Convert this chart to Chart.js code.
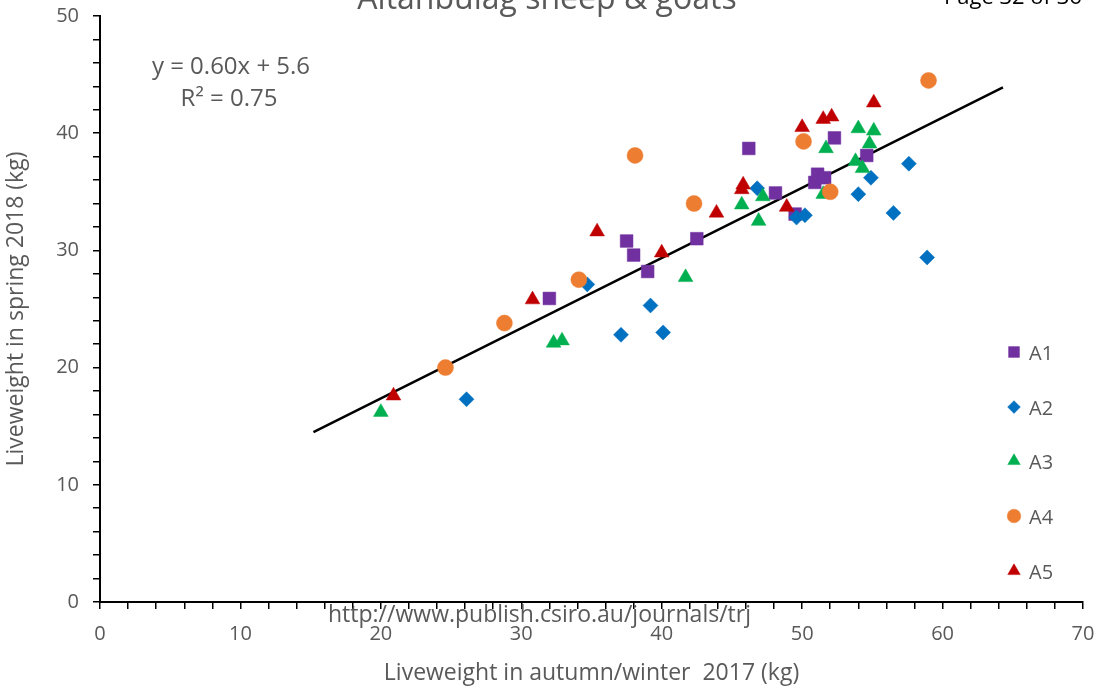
<!DOCTYPE html>
<html>
<head>
<meta charset="utf-8">
<script src="https://cdn.jsdelivr.net/npm/chart.js@4.4.1/dist/chart.umd.min.js"></script>
<style>
  html, body { margin: 0; padding: 0; background: #ffffff; }
  #wrap { width: 1101px; height: 687px; position: relative; }
</style>
</head>
<body>
<div id="wrap"><canvas id="c" width="1101" height="687"></canvas></div>
<script>
// ---- data ----
const seriesNames = ['A1', 'A2', 'A3', 'A4', 'A5'];

const a1X = [32.0, 37.5, 38.0, 39.0, 42.5, 46.2, 48.1, 49.5, 50.9, 51.1, 51.6, 52.3, 54.6];
const a1Y = [25.9, 30.8, 29.6, 28.2, 31.0, 38.7, 34.9, 33.1, 35.8, 36.5, 36.2, 39.6, 38.1];

const a2X = [26.1, 34.7, 37.1, 39.2, 40.1, 46.8, 49.6, 50.2, 54.0, 54.9, 56.5, 57.6, 58.9];
const a2Y = [17.3, 27.1, 22.8, 25.3, 23.0, 35.3, 32.8, 33.0, 34.8, 36.2, 33.2, 37.4, 29.4];

const a3X = [20.0, 32.3, 32.9, 41.7, 45.7, 46.9, 47.2, 51.5, 51.7, 53.8, 54.3, 54.8, 54.0, 55.1];
const a3Y = [16.2, 22.1, 22.3, 27.7, 33.9, 32.5, 34.6, 34.8, 38.7, 37.6, 37.0, 39.1, 40.4, 40.2];

const a4X = [24.6, 28.8, 34.1, 38.1, 42.3, 50.1, 52.0, 59.0];
const a4Y = [20.0, 23.8, 27.5, 38.1, 34.0, 39.3, 35.0, 44.5];

const a5X = [20.9, 30.8, 35.4, 40.0, 43.9, 45.7, 45.8, 48.9, 50.0, 51.5, 52.1, 55.1];
const a5Y = [17.6, 25.8, 31.6, 29.8, 33.2, 35.2, 35.6, 33.7, 40.5, 41.2, 41.4, 42.6];

// trend line end points
const trendX = [15.2, 64.3];
const trendY = [14.5, 43.9];

const xTickLabels = ['0', '10', '20', '30', '40', '50', '60', '70'];
const yTickLabels = ['0', '10', '20', '30', '40', '50'];

const equationText = 'y = 0.60x + 5.6';
const r2Text = 'R\u00B2 = 0.75';
const titleText = 'Altanbulag sheep & goats';
const pageText = 'Page 32 of 36';
const urlText = 'http://www.publish.csiro.au/journals/trj';
const xTitle = 'Liveweight in autumn/winter  2017 (kg)';
const yTitle = 'Liveweight in spring 2018 (kg)';

// ---- styles ----
const FONT = '"Open Sans", Lato, sans-serif';
const GRAY = '#595959';
const styles = [
  { color: '#7030A0', pointStyle: 'rect', radius: 9 },
  { color: '#0070C0', pointStyle: 'rectRot', radius: 7.5 },
  { color: '#00B050', pointStyle: 'triangle', radius: 8.5 },
  { color: '#ED7D31', pointStyle: 'circle', radius: 8 },
  { color: '#C00000', pointStyle: 'triangle', radius: 8.5 }
];
const xs = [a1X, a2X, a3X, a4X, a5X];
const ys = [a1Y, a2Y, a3Y, a4Y, a5Y];

function zip(a, b) { return a.map((v, i) => ({ x: v, y: b[i] })); }

const datasets = seriesNames.map((name, i) => ({
  type: 'scatter',
  label: name,
  data: zip(xs[i], ys[i]),
  pointStyle: styles[i].pointStyle,
  pointRadius: styles[i].radius,
  pointBackgroundColor: styles[i].color,
  pointBorderColor: styles[i].color,
  pointBorderWidth: 0.5,
  order: 5 - i
}));
datasets.push({
  type: 'line',
  label: 'trend',
  data: zip(trendX, trendY),
  borderColor: '#000000',
  borderWidth: 2.5,
  pointRadius: 0,
  fill: false,
  order: 10
});

const overlayPlugin = {
  id: 'overlay',
  afterDraw(chart) {
    const ctx = chart.ctx;
    ctx.save();
    // cut-off title at top
    ctx.fillStyle = GRAY;
    ctx.font = '32px ' + FONT;
    ctx.textAlign = 'center';
    ctx.textBaseline = 'alphabetic';
    ctx.fillText(titleText, 547, 9);
    // page label at top right
    ctx.fillStyle = '#000000';
    ctx.font = '22px ' + FONT;
    ctx.textAlign = 'left';
    ctx.fillText(pageText, 944, 4);
    // equation
    ctx.fillStyle = GRAY;
    ctx.font = '24px ' + FONT;
    ctx.textAlign = 'center';
    ctx.textBaseline = 'middle';
    ctx.fillText(equationText, 231, 67);
    ctx.fillText(r2Text, 229, 99);
    // url
    ctx.font = '23px ' + FONT;
    ctx.textAlign = 'left';
    ctx.textBaseline = 'alphabetic';
    ctx.fillText(urlText, 328, 622);
    // legend (inside plot area, right side)
    const rows = [352, 407, 461, 516, 571];
    ctx.font = '20px ' + FONT;
    ctx.textBaseline = 'middle';
    seriesNames.forEach((name, i) => {
      const st = styles[i];
      ctx.fillStyle = st.color;
      ctx.strokeStyle = st.color;
      ctx.lineWidth = 0.5;
      Chart.helpers.drawPoint(ctx, {
        pointStyle: st.pointStyle,
        radius: st.radius * 0.85,
        rotation: 0,
        borderWidth: 0.5
      }, 1014, rows[i]);
      ctx.fillStyle = GRAY;
      ctx.textAlign = 'left';
      ctx.fillText(name, 1029, rows[i] + 2);
    });
    ctx.restore();
  }
};

new Chart(document.getElementById('c'), {
  data: { datasets },
  options: {
    responsive: false,
    animation: false,
    devicePixelRatio: 1,
    layout: { padding: { top: 16, right: 18, left: 0, bottom: 0 } },
    plugins: {
      legend: { display: false },
      tooltip: { enabled: false },
      title: { display: false }
    },
    scales: {
      x: {
        type: 'linear',
        min: 0, max: 70,
        afterFit(scale) { scale.height = 85; scale.paddingLeft = 0; scale.paddingRight = 0; },
        border: { display: true, color: '#000000', width: 2 },
        grid: {
          drawOnChartArea: false, drawTicks: true, tickLength: 7,
          color: '#000000', tickColor: '#000000', lineWidth: 1.5
        },
        ticks: {
          stepSize: 2, autoSkip: false, maxRotation: 0, padding: 13,
          color: GRAY, font: { family: FONT, size: 20 },
          callback(v) { return v % 10 === 0 ? xTickLabels[v / 10] : ''; }
        },
        title: {
          display: true, text: xTitle, color: GRAY,
          font: { family: FONT, size: 23 }, padding: { top: 0, bottom: 0 }
        }
      },
      y: {
        type: 'linear',
        min: 0, max: 50,
        afterFit(scale) { scale.width = 100; scale.paddingTop = 0; scale.paddingBottom = 0; },
        border: { display: true, color: '#000000', width: 2 },
        grid: {
          drawOnChartArea: false, drawTicks: true, tickLength: 7,
          color: '#000000', tickColor: '#000000', lineWidth: 1.5
        },
        ticks: {
          stepSize: 2, autoSkip: false, padding: 14,
          color: GRAY, font: { family: FONT, size: 20 },
          callback(v) { return v % 10 === 0 ? yTickLabels[v / 10] : ''; }
        },
        title: {
          display: true, text: yTitle, color: GRAY,
          font: { family: FONT, size: 23 }, padding: { top: 3, bottom: 0 }
        }
      }
    }
  },
  plugins: [overlayPlugin]
});
</script>
</body>
</html>
